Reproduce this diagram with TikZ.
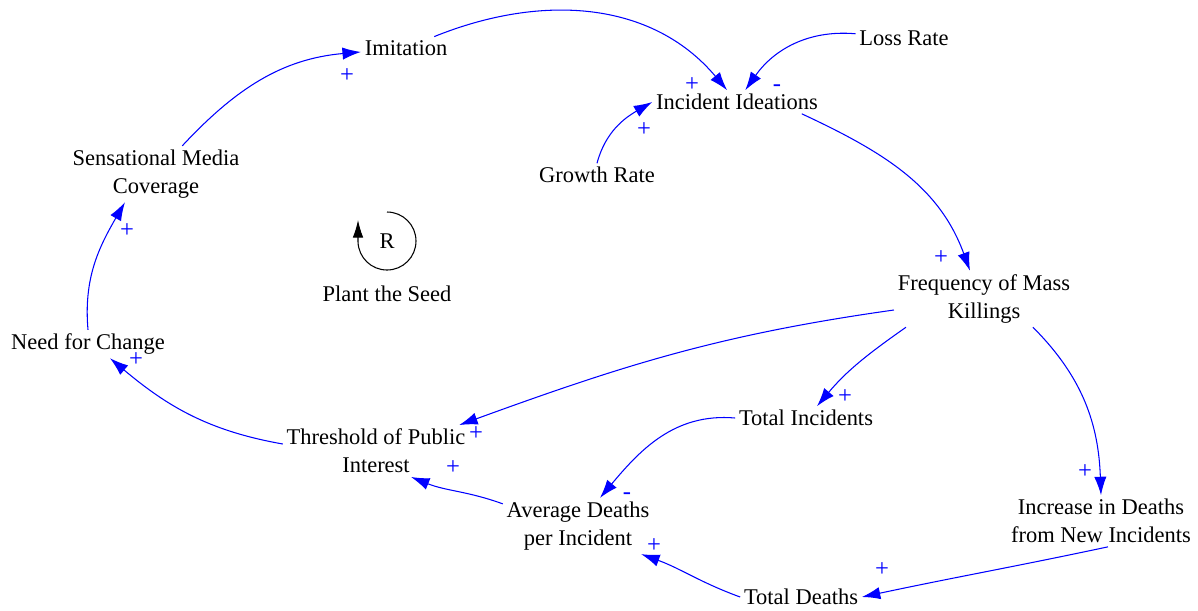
\documentclass[tikz,border=0pt]{standalone}
\usepackage{fontspec}
\setmainfont{Liberation Serif}
\usetikzlibrary{arrows.meta,positioning}
\tikzset{
cldvar/.style = {align=center, inner sep=2pt, font=\fontsize{12.8}{16}\selectfont},% variable name
cldlink/.style = {draw=blue, line width=0.6pt, -{Latex[length=10.5pt,width=7pt]}},% causal link
polar/.style = {text=blue, inner sep=0pt, font=\fontsize{14}{14}\selectfont},% link polarity
loopsign/.style = {draw=black, line width=0.6pt, -{Latex[length=10pt,width=6pt]}}
}
\begin{document}
\begin{tikzpicture}[x=0.02cm, y=0.02cm]
  \useasboundingbox (0,0) rectangle (1198,-610);
  % variables
  \node [cldvar] (imit) at (406,-48) {Imitation};
  \node [cldvar] (loss) at (904,-38) {Loss Rate};
  \node [cldvar] (ideas) at (737,-102) {Incident Ideations};
  \node [cldvar] (growth) at (597,-175) {Growth Rate};
  \node [cldvar] (media) at (156,-174) {Sensational Media\\Coverage};
  \node [cldvar] (rloop) at (387,-241) {R};
  \node [cldvar] (seed) at (387,-294) {Plant the Seed};
  \node [cldvar] (freq) at (984,-299) {Frequency of Mass\\Killings};
  \node [cldvar] (need) at (88,-344) {Need for Change};
  \node [cldvar] (thresh) at (376,-451) {Threshold of Public\\Interest};
  \node [cldvar] (totinc) at (806,-418) {Total Incidents};
  \node [cldvar] (avgd) at (578,-526) {Average Deaths\\per Incident};
  \node [cldvar] (incr) at (1101,-521) {Increase in Deaths\\from New Incidents};
  \node [cldvar] (totd) at (801,-597) {Total Deaths};
  % loop marker
  \draw [loopsign] ([shift={(90:29)}]rloop.center) arc [start angle=90, end angle=-178, radius=29] -- ++(0,22);
  % links
  \draw [cldlink] (media) to[out=47,in=185] (imit);
  \draw [cldlink] (imit) to[out=22,in=130] (ideas);
  \draw [cldlink] (loss) to[out=175,in=55] (ideas);
  \draw [cldlink] (growth.north) to[out=75,in=210] (ideas.west);
  \draw [cldlink] ([shift={(-20,0)}]ideas.south east) to[out=-25,in=110] ([shift={(-14,0)}]freq.north);
  \draw [cldlink] ([shift={(0,-11)}]freq.west) to[out=188,in=20] ([shift={(-10,0)}]thresh.north east);
  \draw [cldlink] ([shift={(12,0)}]freq.south west) to[out=215,in=50] ([shift={(11,0)}]totinc.north);
  \draw [cldlink] (freq.-30) to[out=-45,in=92] (incr.north);
  \draw [cldlink] ([shift={(7,0)}]incr.south) to[out=192,in=12] (totd.east);
  \draw [cldlink] (totd.west) to[out=160,in=-20] ([shift={(-12,0)}]avgd.south east);
  \draw [cldlink] (totinc.west) to[out=175,in=50] ([shift={(22,0)}]avgd.north);
  \draw [cldlink] ([shift={(0,-6)}]avgd.north west) to[out=160,in=-22] ([shift={(35,0)}]thresh.south);
  \draw [cldlink] ([shift={(0,7)}]thresh.west) to[out=170,in=-40] ([shift={(22,0)}]need.south);
  \draw [cldlink] (need.north) to[out=95,in=240] ([shift={(-31,0)}]media.south);
  % polarities
  \node [polar] (s1) at (347,-76) {+};
  \node [polar] (s2) at (692,-85) {+};
  \node [polar] (s3) at (777,-88) {-};
  \node [polar] (s4) at (644,-130) {+};
  \node [polar] (s5) at (941,-258) {+};
  \node [polar] (s6) at (476,-434) {+};
  \node [polar] (s7) at (845,-397) {+};
  \node [polar] (s8) at (1085,-472) {+};
  \node [polar] (s9) at (882,-570) {+};
  \node [polar] (s10) at (654,-546) {+};
  \node [polar] (s11) at (627,-496) {-};
  \node [polar] (s12) at (453,-468) {+};
  \node [polar] (s13) at (136,-360) {+};
  \node [polar] (s14) at (127,-231) {+};
\end{tikzpicture}
\end{document}
